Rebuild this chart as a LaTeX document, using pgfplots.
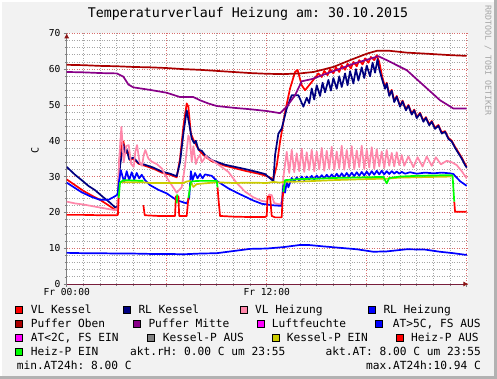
\documentclass[border=0pt]{standalone}
\usepackage{pgfplots}
\pgfplotsset{compat=1.18}
\usepackage{fontspec}
\setmonofont{DejaVu Sans Mono}
\usetikzlibrary{arrows.meta}
\definecolor{bgc}{RGB}{242,242,242}
\definecolor{vlk}{RGB}{255,0,0}
\definecolor{rlk}{RGB}{0,0,128}
\definecolor{vlh}{RGB}{255,135,170}
\definecolor{rlh}{RGB}{0,0,255}
\definecolor{pob}{RGB}{170,0,0}
\definecolor{pmi}{RGB}{136,0,136}
\definecolor{mag}{RGB}{255,0,255}
\definecolor{kpa}{RGB}{128,128,128}
\definecolor{kpe}{RGB}{204,204,0}
\definecolor{hpa}{RGB}{255,0,0}
\definecolor{hpe}{RGB}{0,255,0}
\definecolor{majg}{RGB}{215,110,110}
\definecolor{ming}{RGB}{165,165,165}
\definecolor{arrc}{RGB}{140,20,20}
\definecolor{xax}{RGB}{120,30,60}
\newcommand{\legfont}{\ttfamily\fontsize{11.2}{12}\selectfont}
\begin{document}
\begin{tikzpicture}[x=1pt,y=1pt]
\useasboundingbox (0,0) rectangle (497,379);
\fill[bgc] (0,0) rectangle (497,379);
\fill[white] (0,0) rectangle (2,379);
\fill[white] (0,377) rectangle (497,379);
\fill[black!30] (494,0) rectangle (497,379);
\fill[black!30] (0,0) rectangle (497,3);
\begin{axis}[
  at={(66.7pt,95pt)}, anchor=south west, scale only axis,
  width=401.7pt, height=250.7pt,
  xmin=0, xmax=24.1, ymin=0, ymax=70,
  axis background/.style={fill=white},
  axis lines=left,
  x axis line style={draw=xax, line width=0.8pt, -{Latex[length=5pt,width=5pt,color=arrc]}},
  y axis line style={draw=gray, line width=0.8pt, -{Latex[length=5pt,width=5pt,color=arrc]}},
  xtick={0,6,12,18,24}, xticklabels={Fr 00:00,,Fr 12:00,,},
  ytick={0,10,20,30,40,50,60,70},
  minor x tick num=5, minor y tick num=4,
  grid=both,
  major grid style={draw=majg, line width=0.8pt, dash pattern=on 1pt off 1.5pt},
  minor grid style={draw=ming, line width=0.8pt, dash pattern=on 1pt off 1.5pt},
  tick style={draw=gray, line width=0.6pt},
  major tick length=3pt, minor tick length=2pt, tick align=outside,
  /pgf/number format/assume math mode=true,
  ticklabel style={font=\ttfamily\fontsize{9.6}{10}\selectfont},
  yticklabel style={inner sep=0pt, xshift=-3pt},
  xticklabel style={inner sep=0pt, yshift=-1pt},
  ylabel={C},
  ylabel style={font=\ttfamily\fontsize{10}{11}\selectfont, at={(axis description cs:-0.079,0.534)}, anchor=center},
  every axis plot/.append style={line width=1.7pt, line join=round},
  clip=true,
]
% VL Kessel
\addplot[vlk] coordinates {(0,29.2)(0.5,27.6)(1,26)(1.5,24.7)(2,23.5)(2.5,22)(2.9,20.7)(3.05,21)(3.15,34)(3.3,39.3)(3.4,39.8)(3.55,36.5)(3.65,37.2)(3.8,34.6)(4,35.0)(4.3,33.6)(4.7,33.0)(5.2,32.2)(5.7,31.1)(6.2,30.5)(6.6,29.8)(6.8,35)(7.0,44)(7.2,50.4)(7.3,49.5)(7.45,42)(7.6,40.3)(7.8,38.5)(8,37)(8.3,35.6)(8.7,34.3)(9.5,33.0)(10.7,31.6)(11.5,30.8)(11.9,30.3)(12.4,29.3)(12.6,33)(12.8,39.7)(13.1,48)(13.4,54.6)(13.7,59.2)(13.85,59.8)(14.1,55.5)(14.3,54.1)(14.7,56.4)(15.1,58.8)(15.3,57.8)(15.45,59.5)(15.65,58.3)(15.8,60)(16.0,58.8)(16.15,60.5)(16.35,59.2)(16.5,61)(16.7,59.8)(16.85,61.5)(17.05,60.2)(17.2,62)(17.4,60.8)(17.55,62.5)(17.75,61.3)(17.9,63)(18.1,61.8)(18.25,63.4)(18.45,62.5)(18.6,63.9)(18.75,62)(18.9,58.5)(19.1,54.8)(19.2,56.2)(19.35,52.8)(19.5,54.2)(19.65,51.1)(19.8,52.5)(20.0,49.8)(20.15,51.2)(20.35,48.8)(20.5,50)(20.7,47.6)(20.85,48.7)(21.0,46.6)(21.2,47.8)(21.4,45.6)(21.55,46.6)(21.75,44.6)(21.9,45.5)(22.1,43.6)(22.3,44.4)(22.5,42.3)(22.7,42.7)(22.9,40.8)(23.1,40)(23.3,38.3)(23.5,36.8)(23.7,35.3)(23.9,33.5)(24.0,32.8)};
% RL Kessel
\addplot[rlk] coordinates {(0,32.7)(0.5,30.5)(0.9,29)(1.3,27.4)(1.7,26.2)(2.2,24.2)(2.6,22.7)(2.9,21.4)(3.05,21.6)(3.2,33)(3.4,39)(3.5,36.5)(3.6,37.5)(3.75,34.8)(4,35.3)(4.3,33.8)(4.7,33.3)(5.2,32.5)(5.7,31.4)(6.2,30.8)(6.6,30.1)(6.8,34)(7.0,42)(7.2,48.5)(7.3,46)(7.5,40.6)(7.65,39.3)(7.75,40)(7.9,37.5)(8.1,37.2)(8.3,36)(8.7,34.6)(9.5,33.3)(10.7,32.1)(11.5,31.2)(11.9,30.7)(12.4,28.7)(12.5,36)(12.7,42)(12.9,43.4)(13.2,49)(13.5,52.7)(13.9,52.7)(14.2,49.5)(14.4,52)(14.55,50.5)(14.7,54.6)(14.85,51.5)(15.0,55.5)(15.2,52.5)(15.35,56.2)(15.5,53.5)(15.7,57)(15.85,54)(16.0,57.5)(16.2,54.5)(16.35,58)(16.5,55)(16.7,58.8)(16.85,55.5)(17.0,59.4)(17.2,56)(17.35,60)(17.5,56.8)(17.7,60.5)(17.85,57.5)(18.0,61)(18.2,58)(18.35,61.8)(18.5,59)(18.65,62.8)(18.75,60)(18.9,57.5)(19.1,54.5)(19.2,56)(19.35,52.5)(19.5,54)(19.65,50.8)(19.8,52.3)(20.0,49.5)(20.15,51)(20.35,48.5)(20.5,49.8)(20.7,47.3)(20.85,48.5)(21.0,46.3)(21.2,47.6)(21.4,45.3)(21.55,46.4)(21.75,44.3)(21.9,45.3)(22.1,43.3)(22.3,44.2)(22.5,42)(22.7,42.5)(22.9,40.5)(23.1,39.8)(23.3,38)(23.5,36.5)(23.7,35)(23.9,33.2)(24.0,32.5)};
% VL Heizung
\addplot[vlh] coordinates {(0,23)(0.5,22.5)(1,22.2)(1.7,21.6)(2.3,21.1)(2.9,20.6)(3.05,21)(3.15,35)(3.28,43.9)(3.42,34)(3.57,38.5)(3.72,38.8)(3.87,33.5)(4.02,32.7)(4.12,37)(4.22,38.8)(4.37,34)(4.52,33)(4.62,36)(4.72,37.4)(4.9,35)(5.12,34.1)(5.4,33.5)(5.72,32.2)(5.9,30.4)(6.3,27.6)(6.6,25.5)(6.9,27)(7.1,33)(7.3,41.5)(7.4,40)(7.5,34.1)(7.6,38.5)(7.75,33.5)(7.85,35)(8.0,36.1)(8.1,34)(8.2,34.6)(8.35,35.8)(8.5,35)(8.7,34.6)(9.2,33)(9.7,31.3)(10.2,28.2)(10.7,25.8)(11.2,24.2)(11.7,23.2)(12.0,23)(12.15,25)(12.3,24.8)(12.45,22.6)(12.8,22.2)(12.9,23)(13.0,29.9)(13.2,36.9)(13.35,31.0)(13.5,37.5)(13.65,31.2)(13.8,36.5)(13.95,31.5)(14.1,37.8)(14.25,31.3)(14.4,36.8)(14.55,31.8)(14.7,37.5)(14.85,31.5)(15.0,37.0)(15.15,32.0)(15.3,38.0)(15.45,31.6)(15.6,37.2)(15.75,32.2)(15.9,38.3)(16.05,31.8)(16.2,37.0)(16.35,32.3)(16.5,38.6)(16.65,31.9)(16.8,37.4)(16.95,32.4)(17.1,38.5)(17.25,32.0)(17.4,37.3)(17.55,32.6)(17.7,38.6)(17.85,32.1)(18.0,37.5)(18.15,32.5)(18.3,38.2)(18.45,32.2)(18.6,37.6)(18.75,32.8)(18.9,37.0)(19.05,32.4)(19.2,37.4)(19.35,33.0)(19.5,36.6)(19.65,32.8)(19.8,36.8)(19.95,33.2)(20.1,36.0)(20.25,33.0)(20.5,35.6)(20.8,32.6)(21.05,35.4)(21.35,32.8)(21.6,35.6)(21.9,33.0)(22.15,35.4)(22.45,33.4)(22.8,34.4)(23.1,34.0)(23.4,33.2)(23.7,31.5)(24.0,29.5)};
% RL Heizung
\addplot[rlh] coordinates {(0,28.3)(0.5,26.8)(0.9,25.6)(1.5,24.3)(2,23.5)(2.5,23.5)(2.9,24.5)(3.05,25)(3.15,29)(3.25,31.8)(3.35,30)(3.45,28.5)(3.6,31.5)(3.75,29)(3.9,31.2)(4.05,29.2)(4.2,31)(4.35,29.5)(4.5,30.5)(4.7,29)(5,27.6)(5.5,26.3)(6,25.3)(6.6,23.4)(7.2,22.5)(7.35,24)(7.45,31.5)(7.55,29)(7.7,31)(7.85,29.5)(8.0,30.7)(8.15,29.5)(8.3,30.6)(8.7,30.2)(9.0,28.8)(9.7,26.7)(10.2,25.5)(10.7,24.4)(11.2,23.3)(11.7,22.4)(12.3,22)(12.9,21.8)(13.0,27.6)(13.1,25.5)(13.2,28.5)(13.3,27)(13.5,29.6)(13.65,28.6)(13.8,29.8)(13.95,28.8)(14.1,30.0)(14.25,29.0)(14.4,30.0)(14.55,29.2)(14.7,30.2)(14.85,29.2)(15.0,30.3)(15.15,29.4)(15.3,30.4)(15.45,29.5)(15.6,30.5)(15.75,29.6)(15.9,30.6)(16.05,29.7)(16.2,30.8)(16.35,29.8)(16.5,30.9)(16.65,29.9)(16.8,31.0)(16.95,30.0)(17.1,31.1)(17.25,30.1)(17.4,31.2)(17.55,30.2)(17.7,31.3)(17.85,30.3)(18.0,31.4)(18.15,30.4)(18.3,31.5)(18.45,30.5)(18.6,31.6)(18.75,30.6)(18.9,31.6)(19.05,30.6)(19.2,31.5)(19.35,30.7)(19.5,31.5)(19.65,30.8)(19.8,31.4)(19.95,30.8)(20.1,31.3)(20.3,30.8)(20.6,31.2)(21.0,30.8)(21.5,31.1)(22.0,30.9)(22.5,31.1)(23.0,30.9)(23.2,30.7)(23.6,28.7)(24.0,27.4)};
% Puffer Oben
\addplot[pob] coordinates {(0,61.2)(1,61.1)(2,60.9)(3,60.8)(4,60.6)(5,60.5)(6,60.3)(7,60.0)(8,59.8)(9,59.5)(10,59.2)(11,58.9)(12,58.7)(13,58.6)(14,58.8)(14.8,59.2)(16,60.6)(17,62.5)(18,64.3)(18.6,65.1)(19.4,65.1)(20.4,64.6)(21.6,64.3)(23,63.9)(24,63.7)};
% Puffer Mitte
\addplot[pmi] coordinates {(0,59.2)(1,59.1)(2,58.9)(3,58.8)(3.4,57.9)(3.7,55.7)(4,54.9)(5,54.2)(6,53.4)(6.8,52.2)(7.6,52.2)(8,51.3)(8.5,50.4)(9,49.7)(10,49.2)(11,48.8)(12,48.3)(12.8,47.7)(13.2,49.5)(13.7,52.7)(14.1,56.6)(14.7,57.2)(15.5,58.6)(16.4,60.1)(17.2,61.5)(18,62.6)(18.7,63.6)(19.2,62.5)(20.4,59.7)(21.4,55.5)(22.4,51.3)(23.2,49.0)(24,49.0)};
% AT>5C, FS AUS
\addplot[rlh] coordinates {(0,8.7)(1,8.6)(2,8.6)(3,8.5)(4,8.5)(5,8.4)(6,8.4)(7,8.3)(8,8.5)(9,8.6)(10,9.2)(11,9.8)(12,9.9)(13,10.3)(14,10.9)(14.5,10.9)(15.4,10.5)(16.4,10.1)(17.4,9.7)(18.4,9.0)(19.2,9.1)(20.4,9.7)(21.5,9.6)(22.4,9.0)(23.2,8.6)(24,8.1)};
% Kessel-P EIN
\addplot[kpe] coordinates {(3.2,28.4)(4.6,28.4)(5,28.2)(6,28.2)(7,28.2)(7.2,28.6)(7.4,28.8)(7.6,27.1)(7.8,27.9)(8.5,28.2)(9,28.4)(10,28.2)(11,28.3)(12,28.2)(12.4,28.5)(12.8,28.3)(13.0,28.5)(14,28.6)(16,29)(18,29.3)(19.2,29.4)(20,29.7)(22,29.9)(23.1,30)};
% Heiz-P AUS
\addplot[hpa] coordinates {(0,19.3)(1,19.3)(2,19.2)(3,19.2)(3.07,19.3)(3.12,24)};
\addplot[hpa] coordinates {(4.6,22)(4.68,19.2)(5.5,19)(6.5,19)(6.55,24.5)(6.7,24.5)(6.75,19)(7.2,19)(7.3,24)};
\addplot[hpa] coordinates {(9.05,27)(9.1,24)(9.2,19)(10,18.8)(11,18.7)(11.9,18.7)(12.0,19)(12.05,24.4)(12.2,24.4)(12.3,19)(12.5,18.6)(12.9,18.6)(12.95,24)(13.0,25.7)};
\addplot[hpa] coordinates {(23.25,23)(23.3,20.2)(24,20.2)};
% Heiz-P EIN
\addplot[hpe] coordinates {(3.12,24)(3.2,28.3)(3.4,29)(4,28.9)(4.6,28.8)};
\addplot[hpe] coordinates {(6.6,22.5)(6.63,25)};
\addplot[hpe] coordinates {(7.3,24)(7.45,28.5)(7.6,28.7)(8,28.8)(8.5,28.8)(9.0,28.8)(9.05,27)};
\addplot[hpe] coordinates {(13.0,25.7)(13.1,29)(14,29.3)(15,29.4)(16,29.6)(17,29.7)(18,29.8)(19.0,29.9)(19.2,28.1)(19.35,29.6)(20,30)(21,30.2)(22,30.3)(23,30.4)(23.15,30.3)(23.25,23)};
\end{axis}
% title
\node[font=\ttfamily\fontsize{13.3}{14}\selectfont, anchor=base] at (248,361) {Temperaturverlauf Heizung am: 30.10.2015};
% watermark
\node[font=\ttfamily\fontsize{8.3}{9}\selectfont, text=black!35, rotate=-90, anchor=west, inner sep=0pt] at (488,374) {RRDTOOL / TOBI OETIKER};
% legend
\tikzset{sq/.style={draw=black, line width=0.5pt}, lt/.style={font=\legfont, anchor=base west, inner sep=0pt}, lr/.style={font=\legfont, anchor=base east, inner sep=0pt}}
\filldraw[fill=vlk,sq] (15.7,66) rectangle ++(7,7); \node[lt] at (30.7,65.7) {VL Kessel};
\filldraw[fill=rlk,sq] (123.3,66) rectangle ++(7,7); \node[lt] at (138.3,65.7) {RL Kessel};
\filldraw[fill=vlh,sq] (240,66) rectangle ++(7,7); \node[lt] at (255,65.7) {VL Heizung};
\filldraw[fill=rlh,sq] (368.3,66) rectangle ++(7,7); \node[lt] at (383.3,65.7) {RL Heizung};
\filldraw[fill=pob,sq] (15.7,52) rectangle ++(7,7); \node[lt] at (30.7,51.7) {Puffer Oben};
\filldraw[fill=pmi,sq] (133.3,52) rectangle ++(7,7); \node[lt] at (148.3,51.7) {Puffer Mitte};
\filldraw[fill=mag,sq] (257.7,52) rectangle ++(7,7); \node[lt] at (271.7,51.7) {Luftfeuchte};
\filldraw[fill=rlh,sq] (375.7,52) rectangle ++(7,7); \node[lt] at (392.7,51.7) {AT>5C, FS AUS};
\filldraw[fill=mag,sq] (15.7,38) rectangle ++(7,7); \node[lt] at (30.7,37.7) {AT<2C, FS EIN};
\filldraw[fill=kpa,sq] (147.7,38) rectangle ++(7,7); \node[lt] at (162.7,37.7) {Kessel-P AUS};
\filldraw[fill=kpe,sq] (272.3,38) rectangle ++(7,7); \node[lt] at (286.7,37.7) {Kessel-P EIN};
\filldraw[fill=hpa,sq] (396,38) rectangle ++(7,7); \node[lt] at (411,37.7) {Heiz-P AUS};
\filldraw[fill=hpe,sq] (15.7,24) rectangle ++(7,7); \node[lt] at (30.7,23.7) {Heiz-P EIN};
\node[lt] at (130,23.7) {akt.rH: 0.00 C um 23:55};
\node[lr] at (481,23.7) {akt.AT: 8.00 C um 23:55};
\node[lt] at (16.7,9.7) {min.AT24h: 8.00 C};
\node[lr] at (481,9.7) {max.AT24h:10.94 C};
\end{tikzpicture}
\end{document}
